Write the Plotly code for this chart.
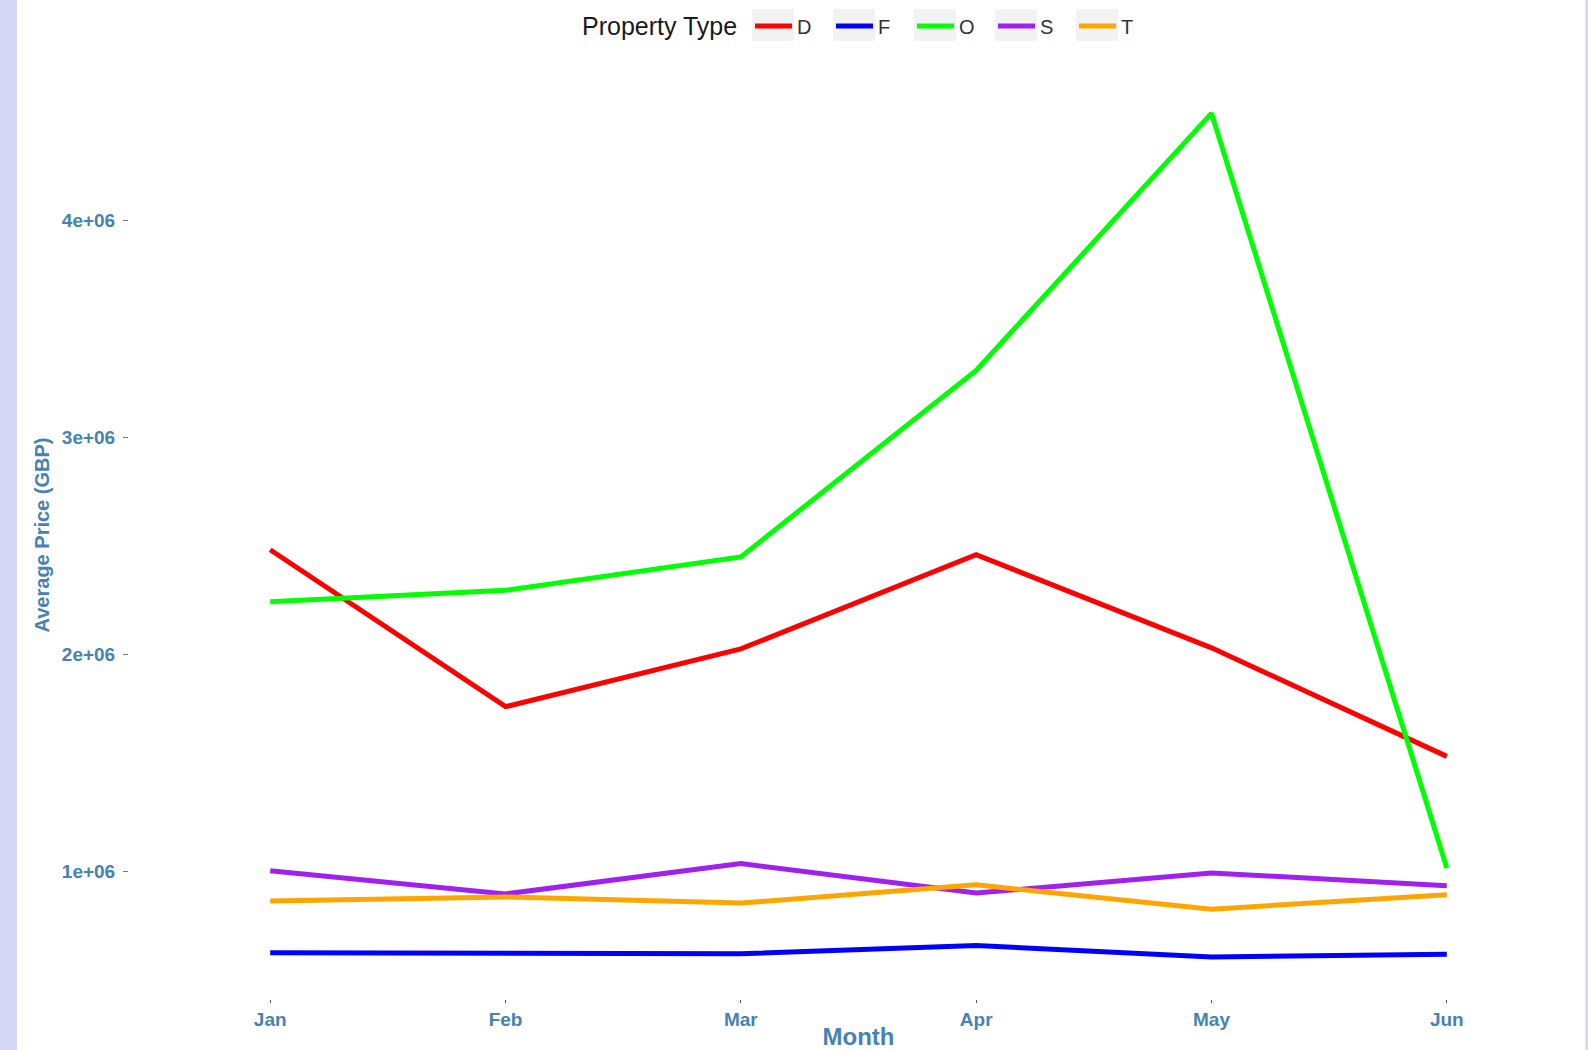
import plotly.graph_objects as go

months = ["Jan", "Feb", "Mar", "Apr", "May", "Jun"]
property_types = ["D", "F", "O", "S", "T"]
price_D = [2484000, 1761000, 2027000, 2461000, 2032000, 1532000]
price_F = [627000, 622000, 622000, 660000, 608000, 620000]
price_O = [2245000, 2297000, 2451000, 3310000, 4495000, 1018000]
price_S = [1005000, 898000, 1038000, 902000, 995000, 936000]
price_T = [865000, 884000, 856000, 940000, 828000, 894000]
series = {"D": price_D, "F": price_F, "O": price_O, "S": price_S, "T": price_T}
colors = {"D": "#FF0000", "F": "#0000FF", "O": "#00FF00", "S": "#A020F0", "T": "#FFA500"}
y_ticks = [1e6, 2e6, 3e6, 4e6]
y_tick_labels = ["1e+06", "2e+06", "3e+06", "4e+06"]

fig = go.Figure()
for p in property_types:
    fig.add_trace(go.Scatter(x=months, y=series[p], mode="lines", name=p,
                             line=dict(color=colors[p], width=5)))

steel = "#4682B4"
W, H = 1588, 1050
L, R, T, B = 129, 0, 71, 51
pw, ph = W - L - R, H - T - B

def px_x(p):
    return (p - L) / pw

def px_y(p):
    return (H - B - p) / ph

shapes = [
    dict(type="rect", xref="paper", yref="paper", x0=px_x(0), x1=px_x(17), y0=px_y(H + 2), y1=px_y(0),
         fillcolor="#D5D8F5", line=dict(width=0), layer="below"),
    dict(type="rect", xref="paper", yref="paper", x0=px_x(1585.5), x1=px_x(1590), y0=px_y(H + 2), y1=px_y(0),
         fillcolor="#D5D8F5", line=dict(width=0), layer="below"),
]
# grey legend key backgrounds (ggplot style)
for i in range(len(property_types)):
    x0 = 752 + 81 * i
    shapes.append(dict(type="rect", xref="paper", yref="paper", x0=px_x(x0), x1=px_x(x0 + 42),
                       y0=px_y(41), y1=px_y(9), fillcolor="#F2F2F2", line=dict(width=0), layer="below"))

annotations = [
    dict(text="Property Type", xref="paper", yref="paper", x=px_x(580), y=px_y(26),
         xanchor="left", yanchor="middle", showarrow=False,
         font=dict(size=25, color="#1a1a1a", family="Liberation Sans, Arial, sans-serif")),
]

fig.update_layout(
    width=W, height=H,
    margin=dict(l=L, r=R, t=T, b=B, pad=0, autoexpand=False),
    paper_bgcolor="white", plot_bgcolor="white",
    font=dict(family="Liberation Sans, Arial, sans-serif", color="#333333"),
    shapes=shapes,
    annotations=annotations,
    showlegend=True,
    legend=dict(orientation="h", xref="container", x=750 / W, xanchor="left",
                yref="container", y=1 - 26 / H, yanchor="middle",
                font=dict(size=20, color="#333333"),
                bgcolor="rgba(0,0,0,0)", itemwidth=37, entrywidth=29, entrywidthmode="pixels",
                tracegroupgap=0),
    xaxis=dict(categoryorder="array", categoryarray=months, range=[-0.6, 5.6], automargin=False,
               showgrid=False, zeroline=False, showline=False,
               ticks="outside", ticklen=3, tickwidth=1, tickcolor="#555555",
               tickfont=dict(size=19, color=steel, family="Liberation Sans, Arial, sans-serif", weight="bold"),
               title=dict(text="<b>Month</b>", font=dict(size=24, color=steel), standoff=7)),
    yaxis=dict(range=[414000, 4690000], tickvals=y_ticks, ticktext=y_tick_labels, automargin=False,
               showgrid=False, zeroline=False, showline=False,
               ticks="outside", ticklen=5, tickwidth=1, tickcolor="#777777", ticklabelstandoff=4,
               tickfont=dict(size=19, color=steel, family="Liberation Sans, Arial, sans-serif", weight="bold"),
               title=dict(text="<b>Average Price (GBP)</b>", font=dict(size=20, color=steel), standoff=6)),
)

fig.write_html("out.html", config={"displayModeBar": False},
               post_script="document.body.style.margin='0px';")
